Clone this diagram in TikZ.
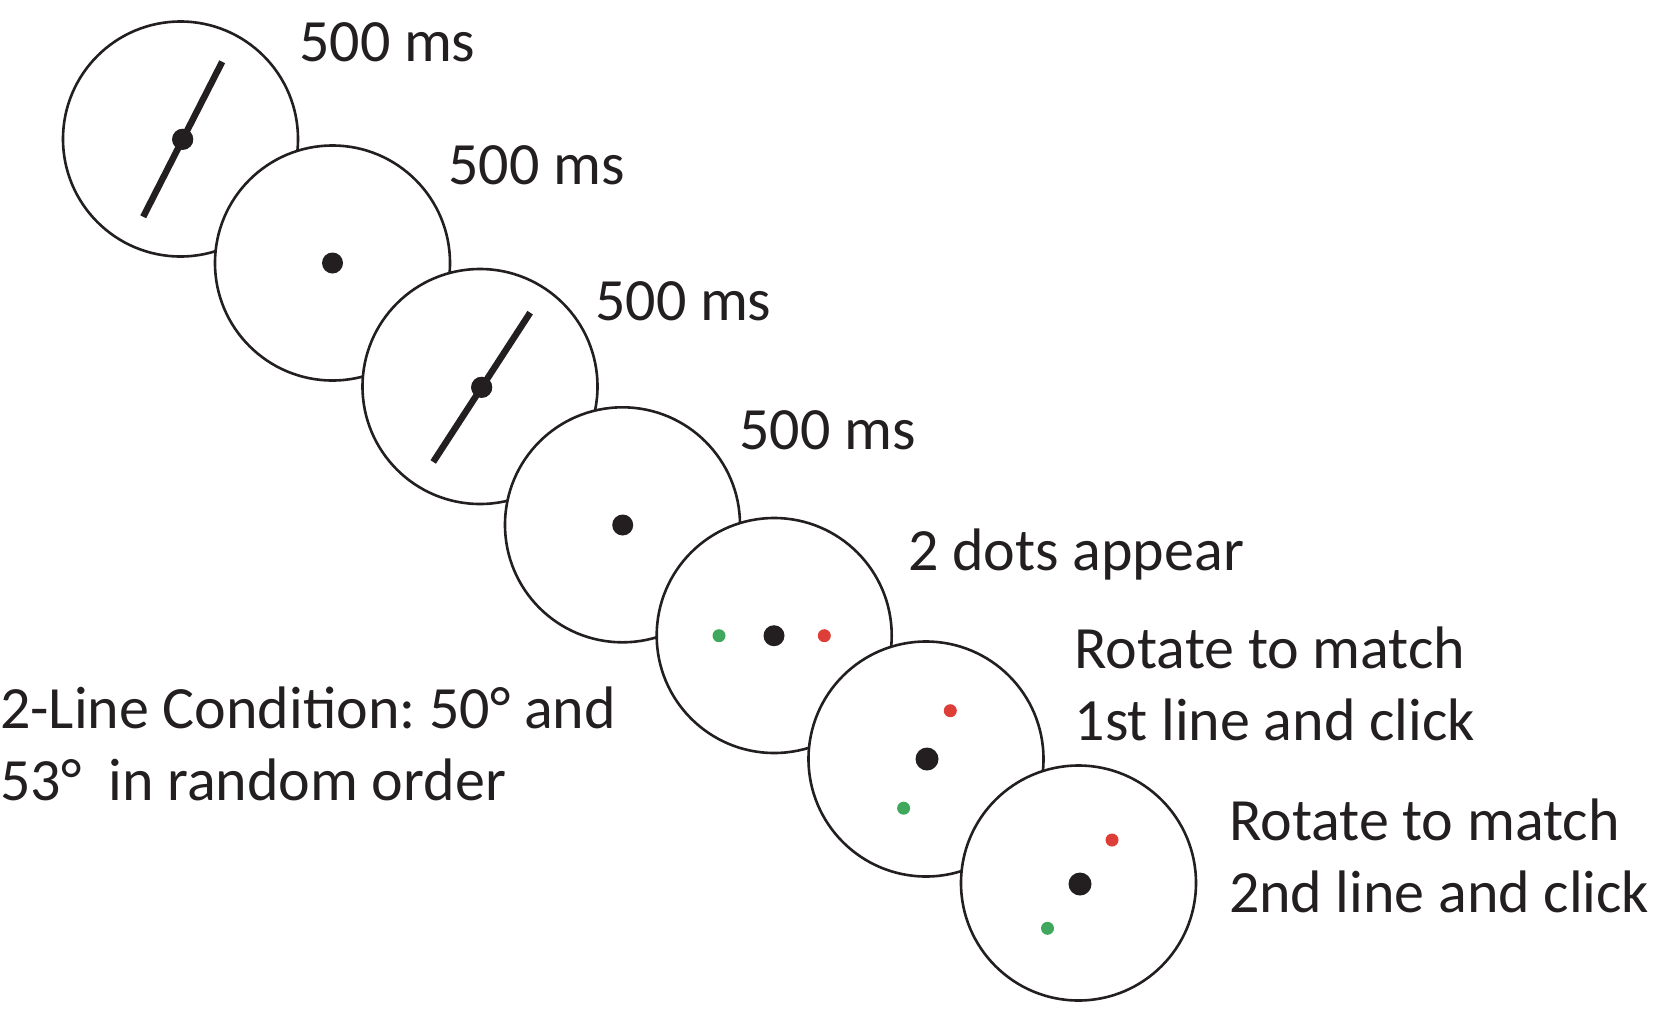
\documentclass[tikz,border=0pt]{standalone}
\usepackage{fontspec}
\setmainfont{Carlito}
\usetikzlibrary{calc}
\definecolor{ink}{RGB}{35,31,32}
\definecolor{dotgreen}{RGB}{64,168,92}
\definecolor{dotred}{RGB}{222,62,56}
\frenchspacing
\begin{document}
\begin{tikzpicture}[
  x=1pt, y=-1pt,
  disc/.style={circle, draw=ink, line width=2.6pt, fill=white, minimum size=235pt, inner sep=0pt},
  fix/.style={circle, fill=ink, inner sep=0pt, minimum size=21pt},
  probe/.style={circle, inner sep=0pt, minimum size=13pt},
  bar/.style={draw=ink, line width=6.5pt},
  lbl/.style={anchor=base west, inner sep=0pt, text=ink, align=left,
    font=\fontsize{60}{72}\selectfont}
]
\useasboundingbox (0,0) rectangle (1663,1029);
\foreach \cx/\cy [count=\i] in {180.5/139, 332.5/263, 480/386.5, 622.5/524.8, 774.2/635.5, 926/759, 1078.5/883}
  \node[disc] (c\i) at (\cx,\cy) {};
\node[fix] (f1) at (182.7,139.3) {};
\draw[bar] ($(f1)+(117:87)$) -- ($(f1)+(-63:87)$);
\node[fix] at (f1) {};
\node[fix] (f2) at (332.5,263) {};
\node[fix] (f3) at (481.7,387.3) {};
\draw[bar] ($(f3)+(123:89)$) -- ($(f3)+(-57:89)$);
\node[fix] at (f3) {};
\node[fix] (f4) at (622.7,525) {};
\node[fix] (f5) at (774,635.7) {};
\node[probe, fill=dotgreen] (g5) at (719,635.7) {};
\node[probe, fill=dotred] (r5) at (824.3,635.7) {};
\node[fix, minimum size=23pt] (f6) at (927,759) {};
\node[probe, fill=dotred] (r6) at (950.3,710.7) {};
\node[probe, fill=dotgreen] (g6) at (903.6,808.2) {};
\node[fix, minimum size=23pt] (f7) at (1080,884) {};
\node[probe, fill=dotred] (r7) at (1112,840) {};
\node[probe, fill=dotgreen] (g7) at (1047.5,928.3) {};
\node[lbl] (t1) at (299,61) {500 ms};
\node[lbl] (t2) at (448.3,184) {500 ms};
\node[lbl] (t3) at (595,320.7) {500 ms};
\node[lbl] (t4) at (739.3,449) {500 ms};
\node[lbl] (t5) at (908.3,570) {2 dots appear};
\node[lbl] (t6) at (1074.4,740) {Rotate to match\\1st line and click};
\node[lbl] (t7) at (1228.8,912.7) {Rotate to match\\2nd line and click};
\node[lbl] (t8) at (0,800) {2-Line Condition: 50° and\\53°\ \ in random order};
\end{tikzpicture}
\end{document}
